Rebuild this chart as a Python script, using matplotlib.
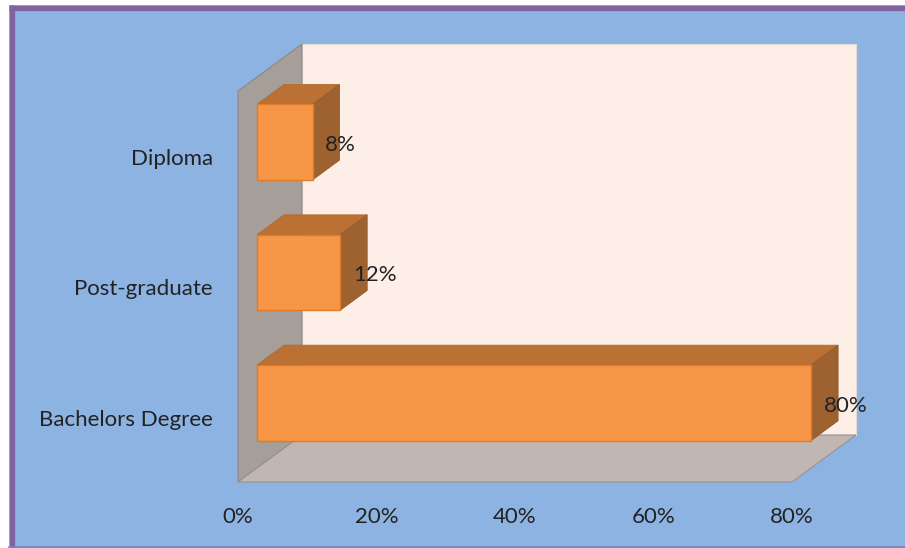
import numpy as np
import matplotlib as mpl
mpl.use('Agg')
import matplotlib.pyplot as plt
from matplotlib.patches import Polygon, Rectangle

# data
categories = ['Bachelors Degree', 'Post-graduate', 'Diploma']
values = [80, 12, 8]
tick_values = [0, 20, 40, 60, 80]
tick_labels = ['0%', '20%', '40%', '60%', '80%']

W, H = 905, 548
blue = '#8db3e2'
purple = '#8064a2'
wall_back = '#fdefe7'
wall_side = '#a59e99'
floor_col = '#c0b6b2'
bar_front = '#f79646'
bar_top = '#bb7134'
bar_side = '#9d6230'
bar_edge = '#e07b2a'
text_col = '#222222'
font = 'Lato'
fs = 16

fig = plt.figure(figsize=(W/100, H/100), dpi=100)
fig.patch.set_facecolor('white')

# frame in pixel coords
bg = fig.add_axes([0, 0, 1, 1])
bg.set_xlim(0, W)
bg.set_ylim(H, 0)
bg.axis('off')
bg.add_patch(Rectangle((9, 5), W, H, facecolor=blue, edgecolor='none'))
bg.plot([11.5, 11.5], [5, H], color=purple, lw=3.8, solid_capstyle='butt')
bg.plot([9, W], [7.5, 7.5], color=purple, lw=3.8, solid_capstyle='butt')
bg.plot([9, W], [547, 547], color='#7f7fc0', lw=1.2)

# plot area (front plane)
x0px, x1px = 238, 792
y0px, y1px = 482, 91
ax = fig.add_axes([x0px/W, 1 - y0px/H, (x1px - x0px)/W, (y0px - y1px)/H])
ax.set_xlim(0, 80)
ax.set_ylim(-0.5, 2.5)
ax.axis('off')

xmax = tick_values[-1]
ylo, yhi = -0.5, len(categories) - 0.5
# depth vector in data units
dx = 64 / (x1px - x0px) * 80
dy = 47 / (y0px - y1px) * 3.0

def poly(pts, fc, ec='none', lw=0, z=1):
    ax.add_patch(Polygon(pts, closed=True, facecolor=fc, edgecolor=ec, lw=lw, zorder=z, clip_on=False))

# back wall
poly([(dx, ylo + dy), (xmax + dx, ylo + dy), (xmax + dx, yhi + dy), (dx, yhi + dy)], wall_back, '#e6dcd6', 0.8)
# side wall
poly([(0, ylo), (0, yhi), (dx, yhi + dy), (dx, ylo + dy)], wall_side, '#8e8884', 0.8)
# floor
poly([(0, ylo), (xmax, ylo), (xmax + dx, ylo + dy), (dx, ylo + dy)], floor_col, '#9a928e', 0.8)

# bars
h = 0.58
f0, f1 = 0.30, 0.72
for i, v in enumerate(values):
    ax0 = f0 * dx
    ay0 = i - h / 2 + f0 * dy
    ax1 = v + f0 * dx
    ay1 = i + h / 2 + f0 * dy
    ddx = (f1 - f0) * dx
    ddy = (f1 - f0) * dy
    poly([(ax0, ay1), (ax1, ay1), (ax1 + ddx, ay1 + ddy), (ax0 + ddx, ay1 + ddy)], bar_top, '#b06a2e', 0.6, 3)
    poly([(ax1, ay0), (ax1 + ddx, ay0 + ddy), (ax1 + ddx, ay1 + ddy), (ax1, ay1)], bar_side, '#945a2a', 0.6, 3)
    poly([(ax0, ay0), (ax1, ay0), (ax1, ay1), (ax0, ay1)], bar_front, bar_edge, 1.0, 4)
    ax.text(v + 0.5 * (f0 + f1) * dx - 0.1, i + f0 * dy - 0.022, '%d%%' % v, ha='left', va='center',
            fontsize=fs, color=text_col, family=font, zorder=5)
    ax.text(-3.6, i - 0.022, categories[i], ha='right', va='center', fontsize=fs,
            color=text_col, family=font)

for t, lab in zip(tick_values, tick_labels):
    ax.text(t, -0.765, lab, ha='center', va='center', fontsize=fs, color=text_col, family=font)

fig.savefig('out.png', dpi=100, facecolor='white')
